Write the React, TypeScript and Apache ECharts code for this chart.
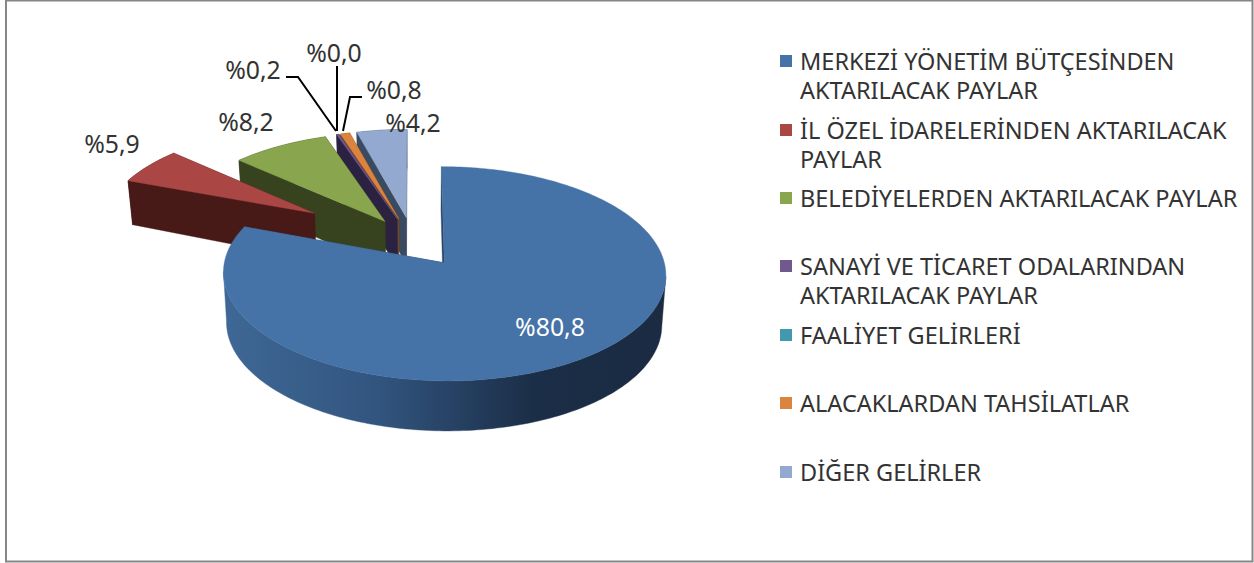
import React, { useEffect, useRef } from "react";
import * as echarts from "echarts";

const categories = [
  "MERKEZİ YÖNETİM BÜTÇESİNDEN\nAKTARILACAK PAYLAR",
  "İL ÖZEL İDARELERİNDEN AKTARILACAK\nPAYLAR",
  "BELEDİYELERDEN AKTARILACAK PAYLAR",
  "SANAYİ VE TİCARET ODALARINDAN\nAKTARILACAK PAYLAR",
  "FAALİYET GELİRLERİ",
  "ALACAKLARDAN TAHSİLATLAR",
  "DİĞER GELİRLER",
];
const values = [80.8, 5.9, 8.2, 0.2, 0.0, 0.8, 4.2];
const topColors = ["#4572A7", "#AA4643", "#89A54E", "#71588F", "#4198AF", "#DB843D", "#93A9CF"];
const wallColors = ["#2b4668", "#471a17", "#37431f", "#2b2140", "#1f4a55", "#7a4a20", "#3a4a60"];
const explode = [0.25, 0.55, 0.24, 0.24, 0.24, 0.24, 0.24];
const paintOrder = [6, 5, 4, 3, 2, 1, 0].reduce((m: number[], s, i) => { m[s] = i; return m; }, []);
const labelCenters = [[550, 326], [112, 143], [246, 121], [253, 69], [334, 52], [394, 89], [413, 122]];
const leaderLines: (number[][] | null)[] = [
  null, null, null,
  [[286, 77], [298, 77], [336, 131]],
  [[337, 66], [337, 131]],
  [[362, 97], [350, 97], [343, 131]],
  null,
];
const legendTops = [46.5, 115.5, 183.5, 251.5, 320.5, 388.5, 457.5];

const FONT = "Noto Sans";
const LABEL_FS = 24.8;
const LEGEND_FS = 23.5;
const X0 = 413, Y0 = 241.5, RX = 215.5, RY = 101.7, K = 0.1;
const RX_LOW = RX * 0.984;
const total = values.reduce((a, b) => a + b, 0);

function projectTop(X: number, V: number) {
  const w = 1 / (1 - K * V);
  return [X0 + RX * X * w, Y0 + RY * V * w];
}
function projectLow(X: number, V: number) {
  const w = 1 / (1 - K * V);
  const d = V * w;
  const depth = d >= 0 ? 50 : 50 + 10 * d;
  return [X0 + RX_LOW * X * w, Y0 + RY * d + depth];
}

function sliceAngles(i: number) {
  let s = 0;
  for (let k = 0; k < i; k++) s += values[k];
  const a0 = (s / total) * Math.PI * 2;
  const a1 = ((s + values[i]) / total) * Math.PI * 2;
  return [a0, a1];
}

function extremeIndex(pts: number[][], sign: number) {
  let best = 0;
  pts.forEach((p, n) => {
    if (sign * p[0] > sign * pts[best][0]) best = n;
  });
  return best;
}

function renderSlice(i: number) {
  return () => {
    const [a0, a1] = sliceAngles(i);
    const mid = (a0 + a1) / 2;
    const ox = Math.sin(mid) * explode[i];
    const ov = -Math.cos(mid) * explode[i];
    const steps = Math.max(2, Math.ceil((a1 - a0) / 0.02));
    const rim: number[][] = [];
    for (let n = 0; n <= steps; n++) {
      const t = a0 + ((a1 - a0) * n) / steps;
      rim.push([ox + Math.sin(t), ov - Math.cos(t)]);
    }
    const topRim = rim.map((p) => projectTop(p[0], p[1]));
    const lowRim = rim.map((p) => projectLow(p[0], p[1]));
    const apexTop = projectTop(ox, ov);
    const apexLow = projectLow(ox, ov);
    const children: any[] = [];
    const wallFill =
      i === 0
        ? new echarts.graphic.LinearGradient(222, 0, 666, 0, [
            { offset: 0, color: "#3f6896" },
            { offset: 0.35, color: "#32557f" },
            { offset: 0.7, color: "#1b2e47" },
            { offset: 1, color: "#1a2b42" },
          ], true)
        : wallColors[i];
    if (values[i] > 0) {
      const wallStyle = { fill: wallFill, stroke: wallFill, lineWidth: 0.4 };
      children.push({ type: "polygon", shape: { points: [apexTop, topRim[topRim.length - 1], lowRim[lowRim.length - 1], apexLow] }, style: wallStyle });
      children.push({ type: "polygon", shape: { points: [apexTop, topRim[0], lowRim[0], apexLow] }, style: wallStyle });
      if (i === 0) {
        // Silhouette of the visible front wall: the top rim's front arc, then the lower rim's front arc.
        const iR = extremeIndex(topRim, 1), iL = extremeIndex(topRim, -1);
        const jR = extremeIndex(lowRim, 1), jL = extremeIndex(lowRim, -1);
        children.push({
          type: "polygon",
          shape: { points: [...topRim.slice(iR, iL + 1), ...lowRim.slice(jR, jL + 1).reverse()] },
          style: wallStyle,
        });
      } else {
        children.push({ type: "polygon", shape: { points: [...topRim, ...lowRim.slice().reverse()] }, style: wallStyle });
      }
      children.push({ type: "polygon", shape: { points: [apexTop, ...topRim] }, style: { fill: topColors[i], stroke: topColors[i], lineWidth: 0.4 } });
    }
    return { type: "group", children };
  };
}

function renderLabel(i: number) {
  return () => {
    const children: any[] = [];
    const line = leaderLines[i];
    if (line) children.push({ type: "polyline", shape: { points: line }, style: { stroke: "#000", lineWidth: 2, fill: "none" } });
    children.push({
      type: "text",
      style: {
        text: "%" + values[i].toFixed(1).replace(".", ","),
        x: labelCenters[i][0], y: labelCenters[i][1],
        align: "center", verticalAlign: "middle",
        font: `${LABEL_FS}px "${FONT}"`,
        fill: i === 0 ? "#ffffff" : "#333333",
      },
    });
    return { type: "group", children };
  };
}

export default function App() {
  const ref = useRef<HTMLDivElement>(null);
  useEffect(() => {
    const chart = echarts.init(ref.current!, null, { renderer: "svg" });
    chart.setOption({
      animation: false,
      backgroundColor: "#ffffff",
      graphic: [{
        type: "rect", z: -1,
        shape: { x: 6, y: 0.5, width: 1246.5, height: 561 },
        style: { fill: "#fff", stroke: "#868686", lineWidth: 2 },
      }],
      legend: categories.map((c, i) => {
        const two = c.includes("\n");
        return {
          data: [c],
          left: 780,
          top: legendTops[i],
          padding: 0,
          icon: two ? "path://M0 0H12V12H0Z M0 41L0.01 41" : "rect",
          itemWidth: 12,
          itemHeight: two ? 41 : 12,
          itemGap: 0,
          selectedMode: false,
          textStyle: {
            fontFamily: FONT, fontSize: LEGEND_FS, color: "#333333", lineHeight: 29,
            padding: [0, 0, 0, 3],
          },
        };
      }),
      series: [
        ...categories.map((c, i) => ({
          type: "custom", name: c, coordinateSystem: "none",
          itemStyle: { color: topColors[i] },
          z: 2 + paintOrder[i], silent: true,
          data: [values[i]],
          renderItem: renderSlice(i),
        })),
        ...categories.map((c, i) => ({
          type: "custom", name: "label-" + i, coordinateSystem: "none",
          z: 20, silent: true,
          data: [values[i]],
          renderItem: renderLabel(i),
        })),
      ],
    });
    return () => chart.dispose();
  }, []);
  return <div ref={ref} style={{ position: "fixed", left: 0, top: 0, width: 1254, height: 563 }} />;
}
